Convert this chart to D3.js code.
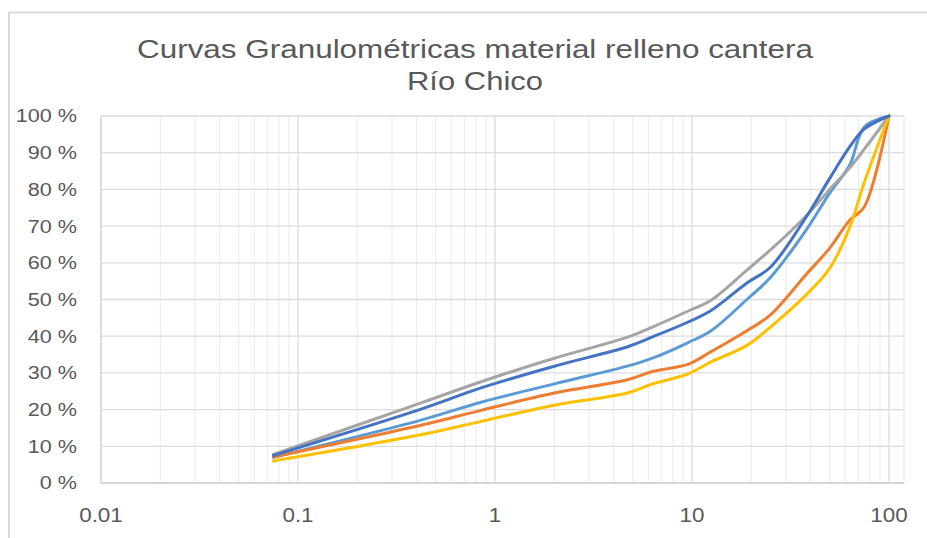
<!DOCTYPE html>
<html>
<head>
<meta charset="utf-8">
<script src="https://cdn.jsdelivr.net/npm/d3@7"></script>
<style>
  html, body { margin: 0; padding: 0; background: #fff; }
  svg { display: block; }
  text { font-family: "Liberation Sans", Arial, sans-serif; fill: #595959; }
</style>
</head>
<body>
<svg id="chart" width="927" height="538"></svg>
<script>
// Sieve openings (mm)
const sieves = [0.075, 0.425, 0.85, 2, 4.75, 6.3, 9.5, 12.5, 19, 25, 37.5, 50, 63, 75, 100];

// Percent passing for each sample curve
const curveGris       = [7.8, 21.9, 27.6, 34.0, 39.8, 42.5, 46.8, 49.8, 58.0, 63.5, 72.5, 80.0, 85.8, 91.0, 100];
const curveAzul       = [7.5, 20.2, 25.9, 31.8, 37.2, 39.8, 43.8, 47.0, 54.5, 58.8, 72.0, 83.0, 91.5, 96.5, 100];
const curveCeleste    = [7.0, 17.2, 22.0, 27.0, 31.9, 34.0, 38.2, 41.5, 50.0, 56.0, 68.5, 79.0, 86.5, 97.0, 100];
const curveNaranja    = [7.1, 15.8, 19.8, 24.5, 28.2, 30.4, 32.3, 35.8, 41.5, 45.8, 56.5, 64.0, 71.5, 75.3, 100];
const curveAmarillo   = [6.0, 13.2, 16.8, 21.2, 24.6, 27.0, 29.7, 33.0, 37.5, 42.5, 51.0, 58.5, 69.5, 82.0, 100];

// Axis ticks
const xTicks = [0.01, 0.1, 1, 10, 100];
const yTicks = [0, 10, 20, 30, 40, 50, 60, 70, 80, 90, 100];

const titleLines = ["Curvas Granulométricas material relleno cantera", "Río Chico"];

// Drawing order follows the series order of the workbook
const series = [
  { values: curveCeleste,  color: "#5B9BD5" },
  { values: curveNaranja,  color: "#ED7D31" },
  { values: curveGris,     color: "#A5A5A5" },
  { values: curveAmarillo, color: "#FFC000" },
  { values: curveAzul,     color: "#4472C4" }
];

const svg = d3.select("#chart");

// Plot area
const plot = { left: 101, right: 904, top: 116, bottom: 483 };
const x = d3.scaleLog().domain([0.01, 100]).range([101, 889]);
const y = d3.scaleLinear().domain([0, 100]).range([plot.bottom, plot.top]);

// Chart frame
svg.append("rect")
  .attr("x", 9).attr("y", 12.5)
  .attr("width", 940).attr("height", 560)
  .attr("fill", "none").attr("stroke", "#d9d9d9").attr("stroke-width", 2);

// Minor vertical gridlines (2..9 within each decade)
const minor = [];
for (let d = 0.01; d < 100; d *= 10) {
  for (let k = 2; k <= 9; k++) minor.push(+(d * k).toPrecision(6));
}
svg.append("g").selectAll("line").data(minor).join("line")
  .attr("x1", d => x(d)).attr("x2", d => x(d))
  .attr("y1", plot.top).attr("y2", plot.bottom)
  .attr("stroke", "#ededed").attr("stroke-width", 1.2);

// Major vertical gridlines
svg.append("g").selectAll("line").data(xTicks).join("line")
  .attr("x1", d => x(d)).attr("x2", d => x(d))
  .attr("y1", plot.top).attr("y2", plot.bottom)
  .attr("stroke", "#dcdcdc").attr("stroke-width", 1.3);

// Horizontal gridlines
svg.append("g").selectAll("line").data(yTicks).join("line")
  .attr("x1", plot.left).attr("x2", plot.right)
  .attr("y1", d => y(d)).attr("y2", d => y(d))
  .attr("stroke", "#dcdcdc").attr("stroke-width", 1.3);

// Plot area edges
svg.append("line")
  .attr("x1", plot.right).attr("x2", plot.right)
  .attr("y1", plot.top).attr("y2", plot.bottom)
  .attr("stroke", "#e6e6e6").attr("stroke-width", 1.2);
svg.append("line")
  .attr("x1", plot.left).attr("x2", plot.right)
  .attr("y1", plot.bottom).attr("y2", plot.bottom)
  .attr("stroke", "#cfcfcf").attr("stroke-width", 1.5);
svg.append("line")
  .attr("x1", plot.left).attr("x2", plot.left)
  .attr("y1", plot.top).attr("y2", plot.bottom)
  .attr("stroke", "#d6d6d6").attr("stroke-width", 1.3);

// Widen text horizontally by a factor
function widen(sel, factor) {
  sel.each(function () {
    const w = this.getComputedTextLength();
    d3.select(this).attr("textLength", w * factor).attr("lengthAdjust", "spacingAndGlyphs");
  });
}

// Y axis labels
const yAxisG = svg.append("g");
yAxisG.selectAll("text").data(yTicks).join("text")
  .attr("x", 77).attr("y", d => y(d))
  .attr("dy", "0.36em")
  .attr("text-anchor", "end")
  .attr("font-size", 18)
  .text(d => d + " %")
  .call(widen, 1.2);

// X axis labels
const xAxisG = svg.append("g");
xAxisG.selectAll("text").data(xTicks).join("text")
  .attr("x", d => x(d)).attr("y", 522)
  .attr("text-anchor", "middle")
  .attr("font-size", 20)
  .text(d => d3.format("~g")(d))
  .call(widen, 1.12);

// Curves
const line = d3.line()
  .x((d, i) => x(sieves[i]))
  .y(d => y(d))
  .curve(d3.curveCatmullRom.alpha(0.5));

svg.append("g").selectAll("path").data(series).join("path")
  .attr("d", s => line(s.values))
  .attr("fill", "none")
  .attr("stroke", s => s.color)
  .attr("stroke-width", 3)
  .attr("stroke-linejoin", "round")
  .attr("stroke-linecap", "round");

// Title
const titleG = svg.append("g");
const titleWidths = [676, 136];
titleG.selectAll("text").data(titleLines).join("text")
  .attr("x", 475)
  .attr("y", (d, i) => 58 + i * 32)
  .attr("text-anchor", "middle")
  .attr("font-size", 25)
  .attr("textLength", (d, i) => titleWidths[i])
  .attr("lengthAdjust", "spacingAndGlyphs")
  .text(d => d);
</script>
</body>
</html>
